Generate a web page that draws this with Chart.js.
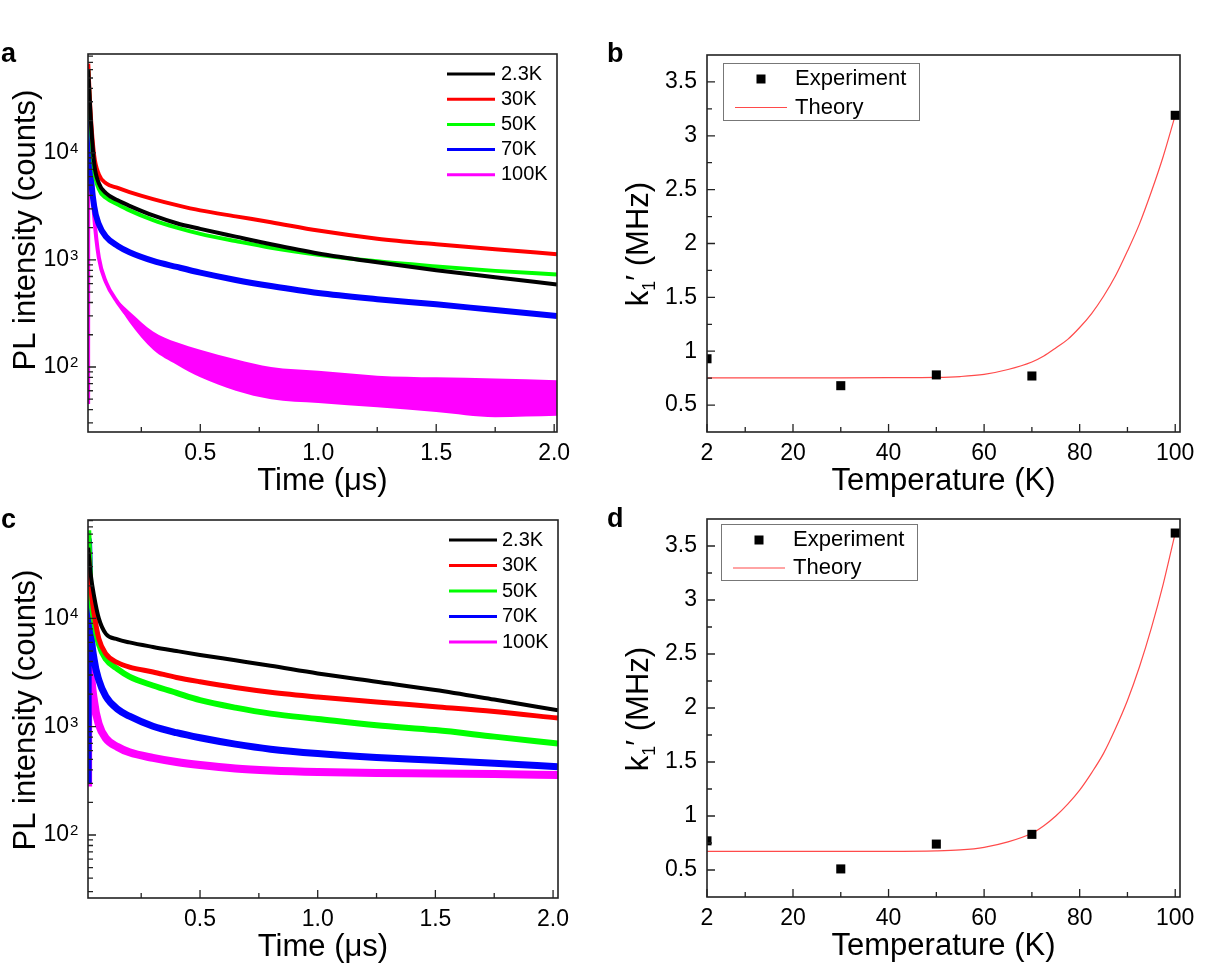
<!DOCTYPE html>
<html>
<head>
<meta charset="UTF-8">
<title>PL decay and k1'</title>
<script src="https://cdn.jsdelivr.net/npm/chart.js@4.4.1/dist/chart.umd.min.js"></script>
<style>
  body { margin: 0; background: #fff; }
  #wrap { position: relative; width: 1228px; height: 969px; }
  canvas { position: absolute; left: 0; top: 0; }
</style>
</head>
<body>
<div id="wrap">
  <canvas id="pa" width="1228" height="969"></canvas>
  <canvas id="pb" width="1228" height="969"></canvas>
  <canvas id="pc" width="1228" height="969"></canvas>
  <canvas id="pd" width="1228" height="969"></canvas>
</div>
<script>
// ---- data ----
const tempLabels = ['2.3K', '30K', '50K', '70K', '100K'];
const tempColors = ['#000000', '#ff0000', '#00ff00', '#0000ff', '#ff00ff'];

// panel a : PL decay, time in us
const timeA = [0.0245, 0.025, 0.035, 0.05, 0.07, 0.1, 0.15, 0.2, 0.3, 0.4, 0.5, 0.65, 0.8, 1.0, 1.25, 1.5, 1.75, 2.012];
const blackA   = [null, 60000, 22000, 8000, 5200, 4200, 3600, 3200, 2600, 2200, 1950, 1650, 1400, 1150, 950, 800, 690, 590];
const redA     = [null, 68000, 24000, 9500, 6300, 5200, 4700, 4300, 3700, 3250, 2900, 2550, 2250, 1880, 1580, 1400, 1260, 1130];
const greenA   = [null, 60000, 20000, 7000, 4600, 3800, 3300, 2900, 2350, 2000, 1750, 1500, 1300, 1120, 970, 870, 790, 730];
const blueA    = [null, 30000, 7000, 3200, 2150, 1650, 1350, 1180, 980, 860, 760, 650, 570, 490, 430, 385, 340, 300];
const magentaA = [45, 28000, 9000, 2600, 1050, 620, 400, 290, 185, 140, 110, 85, 72, 65, 60, 56, 53, 50];
// noisy spread of the 100K trace in panel a
const bandTimeA = [0.15, 0.2, 0.3, 0.4, 0.5, 0.65, 0.8, 1.0, 1.25, 1.5, 1.75, 2.012];
const magUpperA = [420, 330, 215, 170, 145, 118, 100, 92, 83, 80, 78, 75];
const magLowerA = [385, 260, 145, 105, 80, 60, 50, 46, 42, 38, 34, 35];

// panel c
const timeC = [0.0245, 0.025, 0.035, 0.05, 0.07, 0.1, 0.15, 0.2, 0.3, 0.4, 0.5, 0.65, 0.8, 1.0, 1.25, 1.5, 1.75, 2.021];
const blackC   = [null, 45000, 26000, 16000, 10000, 7200, 6400, 6000, 5450, 5000, 4600, 4100, 3650, 3100, 2600, 2180, 1780, 1420];
const redC     = [null, 40000, 20000, 11000, 6500, 4700, 3900, 3550, 3200, 2850, 2600, 2300, 2080, 1880, 1690, 1530, 1380, 1200];
const greenC   = [null, 65000, 18000, 9500, 5800, 4200, 3400, 2900, 2400, 2050, 1760, 1500, 1320, 1180, 1030, 930, 810, 700];
const blueC    = [300, 53000, 9000, 4200, 2700, 1900, 1450, 1250, 1010, 880, 790, 690, 620, 565, 520, 490, 460, 427];
const magentaC = [280, 30000, 4000, 1700, 1050, 780, 650, 580, 515, 472, 443, 412, 395, 382, 374, 370, 365, 358];

// panels b and d : k1' vs temperature
const expTemps = [2, 30, 50, 70, 100];
const expB = [0.93, 0.68, 0.78, 0.77, 3.19];
const expD = [0.77, 0.51, 0.74, 0.83, 3.62];
const theoryTemps = [2, 10, 20, 30, 40, 50, 55, 60, 65, 70, 72.5, 75, 77.5, 80, 82.5, 85, 87.5, 90, 92.5, 95, 97.5, 100];
const theoryB = [0.753, 0.753, 0.753, 0.753, 0.754, 0.757, 0.765, 0.785, 0.83, 0.9, 0.955, 1.03, 1.11, 1.22, 1.35, 1.51, 1.7, 1.93, 2.18, 2.48, 2.81, 3.19];
const theoryD = [0.673, 0.673, 0.673, 0.673, 0.673, 0.677, 0.686, 0.71, 0.76, 0.84, 0.91, 1.0, 1.11, 1.24, 1.4, 1.58, 1.81, 2.07, 2.38, 2.74, 3.15, 3.62];

const timeTicks = [0.5, 1.0, 1.5, 2.0];
const timeMinor = [0.25, 0.75, 1.25, 1.75];
const decadeTicks = [100, 1000, 10000];
const tempTicks = [2, 20, 40, 60, 80, 100];
const tempMinor = [10, 30, 50, 70, 90];
const kTicks = [0.5, 1, 1.5, 2, 2.5, 3, 3.5];
const kMinor = [0.75, 1.25, 1.75, 2.25, 2.75, 3.25];

// ---- drawing ----
const FONT = "'Liberation Sans', Arial, 'DejaVu Sans', sans-serif";
const W = 1228, H = 969;

function logMinor(min, max) {
  const out = [];
  for (let d = 1; d <= 10000; d *= 10) {
    for (let m = 2; m <= 9; m++) {
      const v = m * d;
      if (v > min && v < max) out.push(v);
    }
  }
  return out;
}

function pts(xs, ys) {
  return xs.map((x, i) => ({ x: x, y: ys[i] }));
}

const deco = {
  id: 'deco',
  afterDraw(chart, args, o) {
    const ctx = chart.ctx, a = chart.chartArea;
    const xs = chart.scales.x, ys = chart.scales.y;
    ctx.save();
    ctx.strokeStyle = '#222';
    ctx.lineWidth = 1.3;
    ctx.beginPath();
    const xt = (list, len) => list.forEach(v => {
      const p = xs.getPixelForValue(v);
      ctx.moveTo(p, a.bottom); ctx.lineTo(p, a.bottom - len);
    });
    const yt = (list, len) => list.forEach(v => {
      const p = ys.getPixelForValue(v);
      ctx.moveTo(a.left, p); ctx.lineTo(a.left + len, p);
    });
    xt(o.xMajor, 8); xt(o.xMinor, 5);
    yt(o.yMajor, 8); yt(o.yMinor, 5);
    ctx.stroke();
    ctx.lineWidth = 1.6;
    ctx.strokeRect(a.left, a.top, a.right - a.left, a.bottom - a.top);

    ctx.fillStyle = '#000';
    ctx.textAlign = 'left';
    ctx.textBaseline = 'alphabetic';

    // exponents of the decade labels
    if (o.exponents) {
      ctx.font = '15px ' + FONT;
      o.yMajor.forEach(v => {
        const p = ys.getPixelForValue(v);
        ctx.fillText(String(Math.round(Math.log10(v))), a.left - 18, p);
      });
    }

    ctx.font = 'bold 27px ' + FONT;
    ctx.fillText(o.letter, o.letterX, o.letterY);

    ctx.font = '31px ' + FONT;
    ctx.textAlign = 'center';
    ctx.fillText(o.xTitle, (a.left + a.right) / 2, a.bottom + 58);

    // rotated y title, built from pieces so a subscript can be lowered
    ctx.save();
    ctx.translate(o.yTitleX, o.yTitleY);
    ctx.rotate(-Math.PI / 2);
    ctx.textAlign = 'left';
    let total = 0;
    o.yTitle.forEach(p => { ctx.font = p.size + 'px ' + FONT; p.w = ctx.measureText(p.text).width; total += p.w; });
    let u = -total / 2;
    o.yTitle.forEach(p => {
      ctx.font = p.size + 'px ' + FONT;
      ctx.fillText(p.text, u, 11 + (p.dy || 0));
      u += p.w;
    });
    ctx.restore();

    if (o.legend) o.legend(ctx);
    ctx.restore();
  }
};

function lineLegend(x1, x2, tx, y0, dy) {
  return ctx => {
    ctx.font = '20px ' + FONT;
    ctx.textAlign = 'left';
    ctx.textBaseline = 'middle';
    ctx.lineWidth = 3;
    tempLabels.forEach((lab, i) => {
      const y = y0 + i * dy;
      ctx.strokeStyle = tempColors[i];
      ctx.beginPath(); ctx.moveTo(x1, y); ctx.lineTo(x2, y); ctx.stroke();
      ctx.fillStyle = '#000';
      ctx.fillText(lab, tx, y);
    });
  };
}

function boxLegend(l, t, r, b, mx, y1, y2, lx1, lx2, tx) {
  return ctx => {
    ctx.strokeStyle = '#777';
    ctx.lineWidth = 1;
    ctx.strokeRect(l + 0.5, t + 0.5, r - l, b - t);
    ctx.fillStyle = '#000';
    ctx.fillRect(mx - 4.5, y1 - 4.5, 9, 9);
    ctx.strokeStyle = '#ff4a4a';
    ctx.lineWidth = 1.2;
    ctx.beginPath(); ctx.moveTo(lx1, y2); ctx.lineTo(lx2, y2); ctx.stroke();
    ctx.font = '22px ' + FONT;
    ctx.textAlign = 'left';
    ctx.textBaseline = 'middle';
    ctx.fillText('Experiment', tx, y1);
    ctx.fillText('Theory', tx, y2);
  };
}

function tickFont() {
  return { family: FONT, size: 23 };
}

function makeChart(id, box, xOpt, yOpt, datasets, decoOpt) {
  const xMajor = decoOpt.xMajor, yMajor = decoOpt.yMajor;
  return new Chart(document.getElementById(id), {
    type: 'line',
    data: { datasets: datasets },
    options: {
      responsive: false,
      animation: false,
      devicePixelRatio: 1,
      layout: { padding: { left: box.l - 60, top: box.t, right: W - box.r, bottom: H - box.b - 60 } },
      scales: {
        x: Object.assign({
          type: 'linear',
          afterFit: s => { s.height = 60; },
          afterBuildTicks: s => { s.ticks = xMajor.map(v => ({ value: v })); },
          grid: { display: false, drawTicks: false },
          border: { display: false }
        }, xOpt),
        y: Object.assign({
          afterFit: s => { s.width = 60; },
          afterBuildTicks: s => { s.ticks = yMajor.map(v => ({ value: v })); },
          grid: { display: false, drawTicks: false },
          border: { display: false }
        }, yOpt)
      },
      plugins: { legend: { display: false }, tooltip: { enabled: false }, deco: decoOpt }
    },
    plugins: [deco]
  });
}

function decaySets(t, series, widths, band) {
  const sets = series.map((s, i) => ({
    data: pts(t, s),
    borderColor: tempColors[i],
    borderWidth: widths[i],
    pointRadius: 0,
    cubicInterpolationMode: 'monotone',
    fill: false
  }));
  if (band) {
    sets.push({ data: pts(band.t, band.upper), borderWidth: 0, pointRadius: 0, borderColor: 'rgba(0,0,0,0)',
                backgroundColor: tempColors[4], fill: '+1', cubicInterpolationMode: 'monotone' });
    sets.push({ data: pts(band.t, band.lower), borderWidth: 0, pointRadius: 0, borderColor: 'rgba(0,0,0,0)',
                fill: false, cubicInterpolationMode: 'monotone' });
  }
  return sets;
}

function kSets(exp, theory) {
  return [
    { data: pts(expTemps, exp), showLine: false, pointStyle: 'rect', pointRadius: 6.4,
      pointBackgroundColor: '#000', pointBorderWidth: 0, borderColor: '#000' },
    { data: pts(theoryTemps, theory), borderColor: '#ff4a4a', borderWidth: 1.2, pointRadius: 0,
      cubicInterpolationMode: 'monotone', fill: false }
  ];
}

const timeX = (max) => ({
  min: 0.024, max: max,
  ticks: { font: tickFont(), color: '#000', padding: 8, maxRotation: 0, autoSkip: false,
           callback: v => v.toFixed(1) }
});
const logY = (min, max) => ({
  type: 'logarithmic', min: min, max: max,
  ticks: { font: tickFont(), color: '#000', padding: 19, autoSkip: false,
           callback: () => '10' }
});
const tempX = {
  min: 2, max: 101,
  ticks: { font: tickFont(), color: '#000', padding: 8, maxRotation: 0, autoSkip: false,
           callback: v => String(v) }
};
const kY = {
  type: 'linear', min: 0.25, max: 3.75,
  ticks: { font: tickFont(), color: '#000', padding: 10, autoSkip: false,
           callback: v => String(v) }
};

const plTitle = [{ text: 'PL intensity (counts)', size: 31 }];
const kTitle = [{ text: 'k', size: 31 }, { text: '1', size: 18, dy: 7 }, { text: '\u2032', size: 31 }, { text: ' (MHz)', size: 31 }];

makeChart('pa', { l: 88, t: 54, r: 557, b: 432 }, timeX(2.012), logY(24.7, 83800),
  decaySets(timeA, [blackA, redA, greenA, blueA, magentaA], [4, 4, 4, 6, 4],
            { t: bandTimeA, upper: magUpperA, lower: magLowerA }),
  { xMajor: timeTicks, xMinor: timeMinor, yMajor: decadeTicks, yMinor: logMinor(24.7, 83800),
    exponents: true,
    letter: 'a', letterX: 1, letterY: 62, xTitle: 'Time (\u03bcs)',
    yTitle: plTitle, yTitleX: 24, yTitleY: 230,
    legend: lineLegend(447, 495, 501, 74, 25.2) });

makeChart('pb', { l: 707, t: 55, r: 1180, b: 432 }, tempX, kY, kSets(expB, theoryB),
  { xMajor: tempTicks, xMinor: tempMinor, yMajor: kTicks, yMinor: kMinor,
    letter: 'b', letterX: 607, letterY: 62, xTitle: 'Temperature (K)',
    yTitle: kTitle, yTitleX: 637, yTitleY: 244,
    legend: boxLegend(723, 63, 919, 120, 761, 79, 107.5, 735, 787, 795) });

makeChart('pc', { l: 88, t: 520, r: 558, b: 898 }, timeX(2.021), logY(26.2, 81000),
  decaySets(timeC, [blackC, redC, greenC, blueC, magentaC], [4, 5, 6, 7, 8], null),
  { xMajor: timeTicks, xMinor: timeMinor, yMajor: decadeTicks, yMinor: logMinor(26.2, 81000),
    exponents: true,
    letter: 'c', letterX: 1, letterY: 528, xTitle: 'Time (\u03bcs)',
    yTitle: plTitle, yTitleX: 24, yTitleY: 710,
    legend: lineLegend(449, 497, 502, 540, 25.5) });

makeChart('pd', { l: 707, t: 519, r: 1180, b: 897 }, tempX, kY, kSets(expD, theoryD),
  { xMajor: tempTicks, xMinor: tempMinor, yMajor: kTicks, yMinor: kMinor,
    letter: 'd', letterX: 607, letterY: 527, xTitle: 'Temperature (K)',
    yTitle: kTitle, yTitleX: 637, yTitleY: 709,
    legend: boxLegend(721, 524, 917, 580, 759, 540, 568, 733, 785, 793) });
</script>
</body>
</html>
